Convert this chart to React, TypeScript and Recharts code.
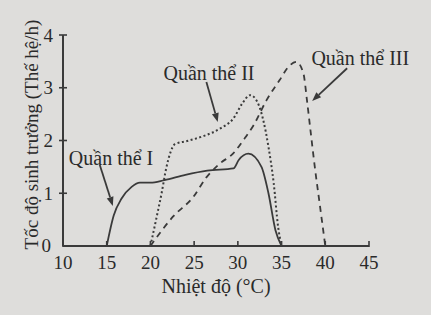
import React from 'react';
import { LineChart, Line, XAxis, YAxis, ReferenceLine, ReferenceDot } from 'recharts';

const tempI = [15, 15.8, 16.7, 17.85, 18.8, 20, 21.6, 24, 26.5, 29.5, 30.1, 31.2, 32.7, 33.5, 34.3, 35];
const rateI = [0, 0.58, 0.9, 1.12, 1.2, 1.2, 1.25, 1.35, 1.43, 1.47, 1.63, 1.75, 1.5, 1.0, 0.3, 0];

const tempII = [20, 20.75, 21.3, 21.8, 22.3, 22.8, 24.2, 26, 28, 29.5, 30.5, 31.4, 32.2, 32.9, 33.5, 34.1, 34.6, 35];
const rateII = [0, 0.58, 1.02, 1.47, 1.78, 1.93, 1.99, 2.08, 2.23, 2.42, 2.7, 2.86, 2.74, 2.39, 1.88, 1.19, 0.37, 0];

const tempIII = [20, 22.6, 24.9, 26.4, 28, 29.5, 30.6, 31.8, 33.3, 34.8, 35.8, 36.7, 37.5, 37.9, 38.3, 38.8, 39.4, 40];
const rateIII = [0, 0.56, 0.93, 1.3, 1.57, 1.76, 2.0, 2.29, 2.77, 3.15, 3.4, 3.49, 3.27, 2.77, 2.2, 1.5, 0.75, 0];

const xTicks = [10, 15, 20, 25, 30, 35, 40, 45];
const yTicks = [0, 1, 2, 3, 4];

const labelNames = ['Quần thể I', 'Quần thể II', 'Quần thể III'];
const labelX = [15.5, 26.7, 44.0];
const labelY = [1.67, 3.28, 3.56];
const arrowFrom = [[14.2, 1.54], [26.4, 3.11], [42.5, 3.37]];
const arrowTo = [[15.7, 0.76], [27.7, 2.35], [38.5, 2.75]];

const xLabel = 'Nhiệt độ (°C)';
const yLabel = 'Tốc độ sinh trưởng (Thế hệ/h)';

const toData = (xs: number[], ys: number[]) => xs.map((t, i) => ({ t, v: ys[i] }));
const dataI = toData(tempI, rateI);
const dataII = toData(tempII, rateII);
const dataIII = toData(tempIII, rateIII);

const INK = '#3a3a3a';
const TEXT = '#2a2a2a';
const FONT = '"Liberation Serif", "DejaVu Serif", serif';
const X_MARGIN = 8;
const Y_MARGIN = 8;

const Arrow = (p: any) => {
  const { x1, y1, x2, y2 } = p;
  const ang = Math.atan2(y2 - y1, x2 - x1);
  const len = 9;
  const w = 3.5;
  const bx = x2 - len * Math.cos(ang);
  const by = y2 - len * Math.sin(ang);
  const px = -Math.sin(ang) * w;
  const py = Math.cos(ang) * w;
  return (
    <g>
      <line x1={x1} y1={y1} x2={bx} y2={by} stroke={INK} strokeWidth={1.8} />
      <polygon points={`${x2},${y2} ${bx + px},${by + py} ${bx - px},${by - py}`} fill={INK} />
    </g>
  );
};

const XTick = (p: any) => {
  const { x, y, payload } = p;
  const ay = y - X_MARGIN;
  return (
    <g>
      <line x1={x} x2={x} y1={ay + 1} y2={ay - 5} stroke={INK} strokeWidth={1.6} />
      <text x={x} y={y} dy="0.78em" textAnchor="middle" fill={TEXT} fontSize={19} fontFamily={FONT}>
        {payload.value}
      </text>
    </g>
  );
};

const YTick = (p: any) => {
  const { x, y, payload } = p;
  const ax = x + Y_MARGIN;
  const isZero = payload.value === 0;
  return (
    <g>
      {!isZero && <line x1={ax - 4} x2={ax + 4} y1={y} y2={y} stroke={INK} strokeWidth={1.6} />}
      <text x={x - 2 - (isZero ? 2 : 0)} y={y + (isZero ? -1 : 0)} dy="0.35em" textAnchor="end" fill={TEXT} fontSize={19} fontFamily={FONT}>
        {payload.value}
      </text>
    </g>
  );
};

const YLabel = (p: any) => {
  const vb = p.viewBox || { x: 0, y: 35, width: 63, height: 211 };
  const cx = 31;
  const cy = vb.y + vb.height / 2 - 6;
  return (
    <text x={cx} y={cy} transform={`rotate(-90, ${cx}, ${cy})`} textAnchor="middle" dominantBaseline="central" fill={TEXT} fontSize={19} fontFamily={FONT}>
      {yLabel}
    </text>
  );
};

export default function App() {
  return (
    <div style={{ position: 'absolute', left: 0, top: 0, width: 431, height: 315, background: '#dedddb', fontFamily: FONT }}>
      <LineChart width={431} height={315} margin={{ top: 35, right: 62, left: 0, bottom: 0 }}>
        <XAxis
          type="number"
          dataKey="t"
          domain={[10, 45]}
          ticks={xTicks}
          allowDataOverflow
          height={69}
          stroke={INK}
          strokeWidth={2}
          tickSize={0}
          tickMargin={X_MARGIN}
          tickLine={false}
          tick={XTick}
          label={{ value: xLabel, position: 'insideBottom', offset: 22, fill: TEXT, fontSize: 20, fontFamily: FONT, dx: 0 }}
        />
        <YAxis
          type="number"
          domain={[0, 4]}
          ticks={yTicks}
          width={63}
          stroke={INK}
          strokeWidth={2}
          tickSize={0}
          tickMargin={Y_MARGIN}
          tickLine={false}
          tick={YTick}
          label={YLabel}
        />
        <Line data={dataI} dataKey="v" type="monotone" stroke={INK} strokeWidth={1.8} dot={false} isAnimationActive={false} />
        <Line data={dataII} dataKey="v" type="monotone" stroke={INK} strokeWidth={2} strokeDasharray="2 2.5" dot={false} isAnimationActive={false} />
        <Line data={dataIII} dataKey="v" type="monotone" stroke={INK} strokeWidth={1.8} strokeDasharray="6 5" dot={false} isAnimationActive={false} />
        {labelNames.map((n, i) => (
          <ReferenceLine
            key={'a' + i}
            segment={[{ x: arrowFrom[i][0], y: arrowFrom[i][1] }, { x: arrowTo[i][0], y: arrowTo[i][1] }]}
            shape={Arrow}
          />
        ))}
        {labelNames.map((n, i) => (
          <ReferenceDot
            key={'l' + i}
            x={labelX[i]}
            y={labelY[i]}
            r={0}
            shape={(p: any) => (
              <text x={p.cx} y={p.cy} textAnchor="middle" dominantBaseline="central" fill={TEXT} fontSize={20} fontFamily={FONT}>
                {n}
              </text>
            )}
          />
        ))}
      </LineChart>
    </div>
  );
}
